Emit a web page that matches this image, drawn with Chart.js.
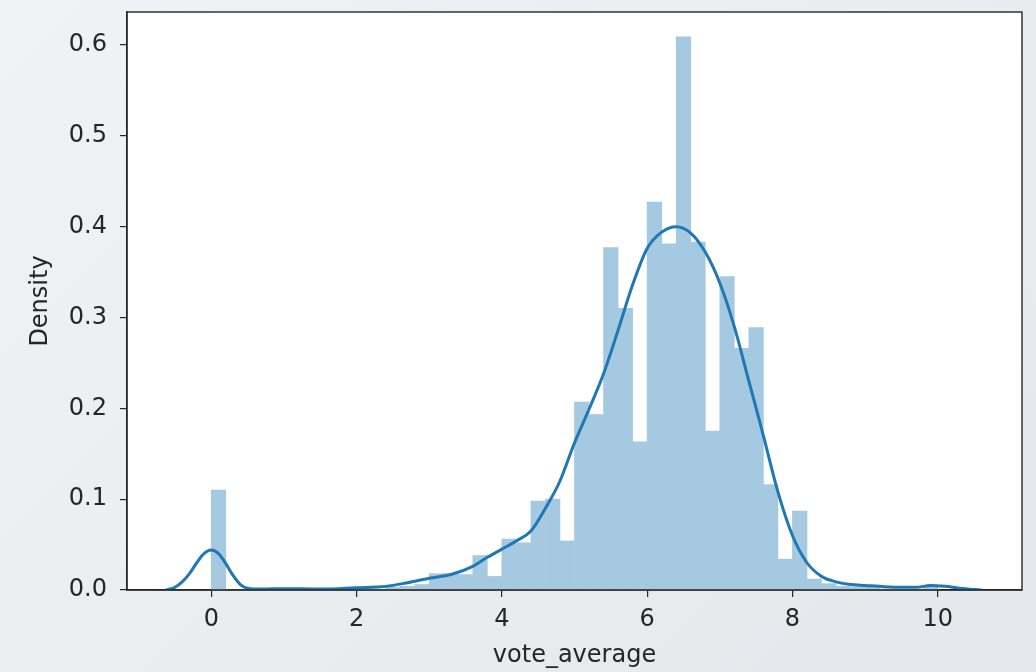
<!DOCTYPE html>
<html>
<head>
<meta charset="utf-8">
<script src="https://cdn.jsdelivr.net/npm/chart.js@4"></script>
<style>
  html, body { margin: 0; padding: 0; }
  body {
    width: 1036px; height: 672px; overflow: hidden;
    background: linear-gradient(135deg, #f1f2f5 0%, #e9ebef 60%, #e4e7eb 100%);
  }
  #wrap { position: absolute; left: 0; top: 0; width: 1036px; height: 672px; }
</style>
</head>
<body>
<div id="wrap"><canvas id="chart" width="1036" height="672"></canvas></div>
<script>
// histogram bins (left edges), width 0.2
const binLefts = [
  0.0, 0.2, 0.4, 0.6, 0.8, 1.0, 1.2, 1.4, 1.6, 1.8,
  2.0, 2.2, 2.4, 2.6, 2.8, 3.0, 3.2, 3.4, 3.6, 3.8,
  4.0, 4.2, 4.4, 4.6, 4.8, 5.0, 5.2, 5.4, 5.6, 5.8,
  6.0, 6.2, 6.4, 6.6, 6.8, 7.0, 7.2, 7.4, 7.6, 7.8,
  8.0, 8.2, 8.4, 8.6, 8.8, 9.0, 9.2, 9.4, 9.6, 9.8
];
const binWidth = 0.2;
const density = [
  0.110, 0, 0, 0, 0.001, 0.001, 0, 0.001, 0, 0.001,
  0.002, 0.001, 0.003, 0.004, 0.006, 0.018, 0.018, 0.017, 0.038, 0.015,
  0.056, 0.052, 0.098, 0.100, 0.054, 0.207, 0.193, 0.377, 0.310, 0.163,
  0.427, 0.381, 0.609, 0.383, 0.175, 0.345, 0.266, 0.289, 0.116, 0.034,
  0.087, 0.012, 0.007, 0.004, 0.003, 0.004, 0.001, 0.001, 0.001, 0.005
];

// kde curve
const kdeX = [-0.62, -0.5, -0.4, -0.3, -0.2, -0.1, 0, 0.1, 0.2, 0.3, 0.4, 0.5, 0.7, 1.0, 1.5,
  2.0, 2.4, 2.7, 3.0, 3.3, 3.6, 3.8, 4.0, 4.2, 4.4, 4.6, 4.8, 5.0, 5.2, 5.4, 5.6, 5.8,
  6.0, 6.2, 6.4, 6.6, 6.8, 7.0, 7.2, 7.4, 7.6, 7.8, 8.0, 8.2, 8.4, 8.6, 8.8, 9.0, 9.2,
  9.5, 9.7, 9.9, 10.1, 10.3, 10.6];
const kdeY = [0, 0.003, 0.009, 0.018, 0.030, 0.040, 0.044, 0.040, 0.029, 0.016, 0.006, 0.002, 0.001, 0.0015, 0.001,
  0.0025, 0.004, 0.008, 0.013, 0.017, 0.026, 0.036, 0.045, 0.054, 0.065, 0.090, 0.120, 0.162, 0.199, 0.238, 0.286, 0.336,
  0.376, 0.394, 0.400, 0.393, 0.372, 0.338, 0.290, 0.230, 0.170, 0.108, 0.060, 0.030, 0.015, 0.009, 0.006, 0.005, 0.004,
  0.003, 0.003, 0.005, 0.004, 0.002, 0];

const xTicks = [0, 2, 4, 6, 8, 10];
const yTicks = [0, 0.1, 0.2, 0.3, 0.4, 0.5, 0.6];
const xTitle = 'vote_average';
const yTitle = 'Density';

const blue = '#1f77b4';
const barFill = 'rgb(165,201,225)'; // #1f77b4 at alpha .4 over white
const ink = '#262626';
const font = { family: 'DejaVu Sans', size: 24 };

// white axes background + full box frame like matplotlib spines
const framePlugin = {
  id: 'frame',
  beforeDraw(chart) {
    const { ctx, chartArea: a } = chart;
    ctx.save();
    ctx.fillStyle = '#ffffff';
    ctx.fillRect(a.left, a.top, a.right - a.left, a.bottom - a.top);
    ctx.restore();
  },
  afterDraw(chart) {
    const { ctx, chartArea: a } = chart;
    ctx.save();
    ctx.strokeStyle = ink;
    ctx.lineWidth = 1.4;
    ctx.strokeRect(a.left, a.top, a.right - a.left, a.bottom - a.top);
    ctx.restore();
  }
};

new Chart(document.getElementById('chart'), {
  type: 'bar',
  data: {
    datasets: [
      {
        type: 'line',
        data: kdeX.map((x, i) => ({ x: x, y: kdeY[i] })),
        borderColor: blue,
        borderWidth: 3,
        pointRadius: 0,
        cubicInterpolationMode: 'monotone',
        fill: false,
        order: 0
      },
      {
        type: 'bar',
        data: binLefts.map((x, i) => ({ x: x + binWidth / 2, y: density[i] })),
        backgroundColor: barFill,
        borderWidth: 0,
        barPercentage: 1,
        categoryPercentage: 1,
        grouped: false,
        order: 1
      }
    ]
  },
  options: {
    responsive: false,
    animation: false,
    layout: { padding: { left: 0, top: 12, right: 14, bottom: 0 } },
    plugins: { legend: { display: false }, tooltip: { enabled: false } },
    scales: {
      x: {
        type: 'linear',
        offset: false,
        min: -1.16,
        max: 11.16,
        afterBuildTicks(s) { s.ticks = xTicks.map(v => ({ value: v })); },
        afterFit(s) { s.height = 82; s.paddingLeft = 0; s.paddingRight = 0; },
        grid: { offset: false, drawOnChartArea: false, drawTicks: true, tickLength: 7, color: ink, lineWidth: 1.2 },
        border: { display: true, color: ink, width: 1.4 },
        ticks: { color: ink, font: font, padding: 8, maxRotation: 0 },
        title: { display: true, text: xTitle, color: ink, font: font, padding: { top: 0, bottom: 2 } }
      },
      y: {
        type: 'linear',
        min: 0,
        max: 0.6363,
        afterBuildTicks(s) { s.ticks = yTicks.map(v => ({ value: v })); },
        afterFit(s) { s.width = 127; s.paddingTop = 0; s.paddingBottom = 0; },
        grid: { drawOnChartArea: false, drawTicks: true, tickLength: 7, color: ink, lineWidth: 1.2 },
        border: { display: true, color: ink, width: 1.4 },
        ticks: { color: ink, font: font, padding: 13, callback: v => v.toFixed(1) },
        title: { display: true, text: yTitle, color: ink, font: font, padding: { top: 26, bottom: 0 } }
      }
    }
  },
  plugins: [framePlugin]
});
</script>
</body>
</html>
